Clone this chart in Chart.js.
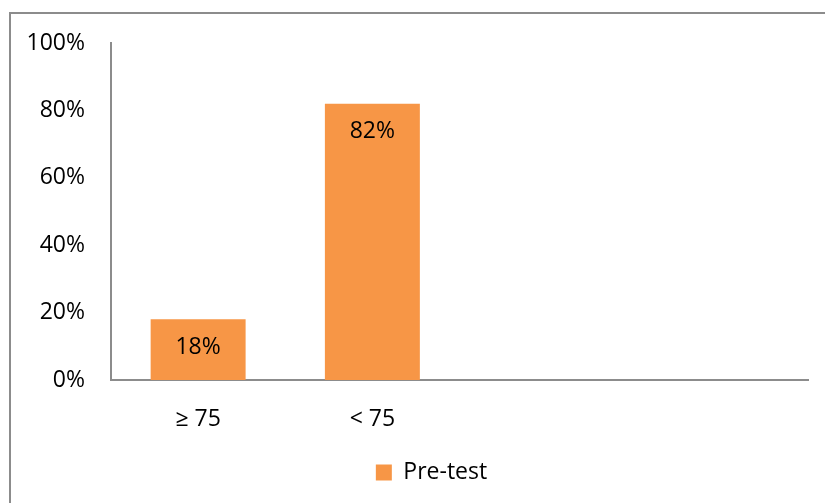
<!DOCTYPE html>
<html>
<head>
<meta charset="utf-8">
<script src="https://cdn.jsdelivr.net/npm/chart.js@4"></script>
<style>
  html, body { margin: 0; padding: 0; background: #fff; }
  #frame {
    position: absolute; left: 9px; top: 12px;
    width: 814px; height: 489px;
    border-left: 2px solid #8c8c8c; border-top: 2px solid #8c8c8c;
  }
  #myChart { display: block; }
</style>
</head>
<body>
<div id="frame"><canvas id="myChart" width="814" height="489"></canvas></div>
<script>
// grafico pre-test

const labels = ['≥ 75', '< 75', '', ''];
const preTest = [18, 82, null, null];
const yTicks = [0, 20, 40, 60, 80, 100];

const fontFamily = "'Open Sans', sans-serif";
const fontSize = 23;

// etiquetas dentro das barras
const barLabels = {
    id: 'barLabels',
    afterDatasetsDraw(chart) {
        const c = chart.ctx;
        c.save();
        c.font = fontSize + 'px ' + fontFamily;
        c.fillStyle = '#000';
        c.textAlign = 'center';
        c.textBaseline = 'middle';
        chart.getDatasetMeta(0).data.forEach((bar, i) => {
            if (preTest[i] == null) return;
            c.fillText(preTest[i] + '%', bar.x, bar.y + 28);
        });
        c.restore();
    }
};

// legenda um pouco deslocada para a direita
const legendShift = {
    id: 'legendShift',
    afterLayout(chart) {
        chart.legend.left += 44;
    }
};

const ctx = document.getElementById('myChart').getContext('2d');

const myChart = new Chart(ctx, {
    type: 'bar',
    data: {
        labels: labels,
        datasets: [{
            label: 'Pre-test',
            backgroundColor: '#f79646',
            data: preTest,
            categoryPercentage: 1,
            barPercentage: 0.545,
        }],
    },
    options: {
        responsive: false,
        animation: false,
        layout: { padding: { top: 29, right: 17, bottom: 9, left: 0 } },
        plugins: {
            tooltip: { enabled: false },
            legend: {
                position: 'bottom',
                labels: {
                    color: '#000',
                    font: { family: fontFamily, size: fontSize },
                    boxWidth: 16, boxHeight: 16,
                    padding: 10,
                }
            }
        },
        scales: {
            x: {
                grid: { display: false, drawTicks: false },
                border: { color: '#8c8c8c', width: 2 },
                ticks: { color: '#000', font: { family: fontFamily, size: fontSize }, padding: 26, maxRotation: 0 },
                afterFit(scale) { scale.height = 71; }
            },
            y: {
                min: 0, max: 100,
                grid: { display: false, drawTicks: false },
                border: { color: '#8c8c8c', width: 2 },
                afterBuildTicks(scale) { scale.ticks = yTicks.map(v => ({ value: v })); },
                ticks: {
                    color: '#000',
                    font: { family: fontFamily, size: fontSize },
                    padding: 26,
                    callback: function(value) { return value + '%'; }
                },
                afterFit(scale) {
                    scale.width = 100;
                    scale.paddingTop = 0;
                    scale.paddingBottom = 0;
                }
            }
        }
    },
    plugins: [barLabels, legendShift]
});
</script>
</body>
</html>
